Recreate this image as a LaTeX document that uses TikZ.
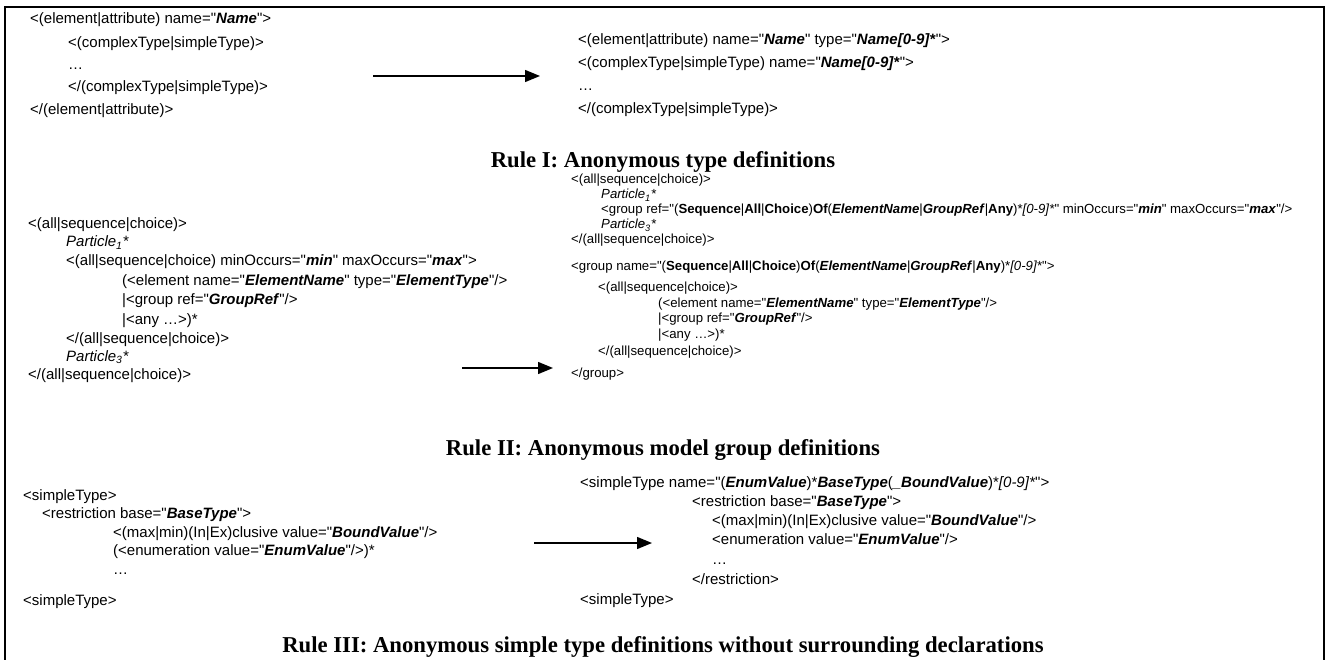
\documentclass[tikz,border=0pt]{standalone}
\usepackage{fontspec}
\setmainfont{Liberation Sans}[Ligatures=TeXOff]
\newfontfamily\serifbold{Liberation Serif}[Ligatures=TeXOff]
\usetikzlibrary{arrows.meta}
\newcommand\bxi[1]{\textbf{\textit{#1}}}
\newcommand\bxb[1]{\textbf{#1}}
\newcommand\codefont{\fontsize{15}{18}\selectfont}
\newcommand\mysmallcode{\fontsize{13.2}{15}\selectfont}
\newcommand\ttlfont{\serifbold\bfseries\fontsize{22.7}{27}\selectfont}
\newcommand\parti[1]{\textit{Particle\textsubscript{#1}*}}
\tikzset{
  code/.style={anchor=base west, inner sep=0pt, font=\codefont},
  smallc/.style={anchor=base west, inner sep=0pt, font=\mysmallcode},
  rtitle/.style={anchor=base, inner sep=0pt, font=\ttlfont},
  arr/.style={-{Triangle[length=15pt,width=12pt]}, line width=1.4pt},
  frame/.style={line width=2pt}
}
\begin{document}
\begin{tikzpicture}[x=1pt,y=-1pt]
\useasboundingbox (0,0) rectangle (1325,660);
\draw[frame] (5,665) -- (5,7) -- (1324,7) -- (1324,665);
% ---------- Rule I
\node[code] (a1) at (30,24) {<(element|attribute) name="\bxi{Name}">};
\node[code] (a2) at (68,48) {<(complexType|simpleType)>};
\node[code] (a3) at (68,70) {…};
\node[code] (a4) at (68,92) {</(complexType|simpleType)>};
\node[code] (a5) at (30,115) {</(element|attribute)>};
\coordinate (r1s) at (373,76);
\coordinate (r1e) at (540,76);
\draw[arr] (r1s) -- (r1e);
\node[code] (b1) at (578,45) {<(element|attribute) name="\bxi{Name}" type="\bxi{Name[0-9]*}">};
\node[code] (b2) at (578,68) {<(complexType|simpleType) name="\bxi{Name[0-9]*}">};
\node[code] (b3) at (578,91) {…};
\node[code] (b4) at (578,114) {</(complexType|simpleType)>};
\node[rtitle] (t1) at (663,168) {Rule I: Anonymous type definitions};
% ---------- Rule II
\node[code] (c1) at (28,229) {<(all|sequence|choice)>};
\node[code] (c2) at (66,247) {\parti{1}};
\node[code] (c3) at (66,266) {<(all|sequence|choice) minOccurs="\bxi{min}" maxOccurs="\bxi{max}">};
\node[code] (c4) at (122,286) {(<element name="\bxi{ElementName}" type="\bxi{ElementType}"/>};
\node[code] (c5) at (122,305) {|<group ref="\bxi{GroupRef}"/>};
\node[code] (c6) at (122,324) {|<any …>)*};
\node[code] (c7) at (66,343) {</(all|sequence|choice)>};
\node[code] (c8) at (66,361) {\parti{3}};
\node[code] (c9) at (28,379) {</(all|sequence|choice)>};
\coordinate (r2s) at (462,368);
\coordinate (r2e) at (553,368);
\draw[arr] (r2s) -- (r2e);
\node[smallc] (d1) at (571,184) {<(all|sequence|choice)>};
\node[smallc] (d2) at (601,199) {\parti{1}};
\node[smallc] (d3) at (601,214) {<group ref="(\bxb{Sequence}|\bxb{All}|\bxb{Choice})\bxb{Of}(\bxi{ElementName}|\bxi{GroupRef}|\bxb{Any})*\textit{[0-9]*}" minOccurs="\bxi{min}" maxOccurs="\bxi{max}"/>};
\node[smallc] (d4) at (601,229) {\parti{3}};
\node[smallc] (d5) at (571,244) {</(all|sequence|choice)>};
\node[smallc] (d6) at (571,271) {<group name="(\bxb{Sequence}|\bxb{All}|\bxb{Choice})\bxb{Of}(\bxi{ElementName}|\bxi{GroupRef}|\bxb{Any})*\textit{[0-9]*}">};
\node[smallc] (d7) at (598,291) {<(all|sequence|choice)>};
\node[smallc] (d8) at (658,308) {(<element name="\bxi{ElementName}" type="\bxi{ElementType}"/>};
\node[smallc] (d9) at (658,323) {|<group ref="\bxi{GroupRef}"/>};
\node[smallc] (d10) at (658,338) {|<any …>)*};
\node[smallc] (d11) at (598,355) {</(all|sequence|choice)>};
\node[smallc] (d12) at (571,377) {</group>};
\node[rtitle] (t2) at (663,455) {Rule II: Anonymous model group definitions};
% ---------- Rule III
\node[code] (e1) at (23,500) {<simpleType>};
\node[code] (e2) at (42,518) {<restriction base="\bxi{BaseType}">};
\node[code] (e3) at (113,537) {<(max|min)(In|Ex)clusive value="\bxi{BoundValue}"/>};
\node[code] (e4) at (113,555) {(<enumeration value="\bxi{EnumValue}"/>)*};
\node[code] (e5) at (113,574) {…};
\node[code] (e6) at (23,605) {<simpleType>};
\coordinate (r3s) at (534,543);
\coordinate (r3e) at (652,543);
\draw[arr] (r3s) -- (r3e);
\node[code] (f1) at (580,487) {<simpleType name="(\bxi{EnumValue})*\bxi{BaseType}(\bxi{\_BoundValue})*\textit{[0-9]*}">};
\node[code] (f2) at (692,506) {<restriction base="\bxi{BaseType}">};
\node[code] (f3) at (712,525) {<(max|min)(In|Ex)clusive value="\bxi{BoundValue}"/>};
\node[code] (f4) at (712,544) {<enumeration value="\bxi{EnumValue}"/>};
\node[code] (f5) at (712,564) {…};
\node[code] (f6) at (692,584) {</restriction>};
\node[code] (f7) at (580,604) {<simpleType>};
\node[rtitle] (t3) at (663,652) {Rule III: Anonymous simple type definitions without surrounding declarations};
\end{tikzpicture}
\end{document}
